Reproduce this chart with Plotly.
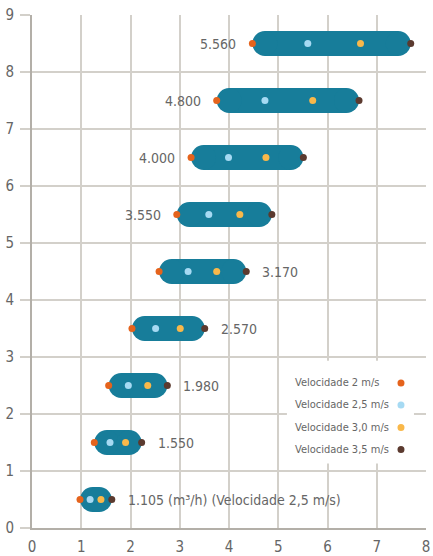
import plotly.graph_objects as go

# ---- data ----
rows = [0.5, 1.5, 2.5, 3.5, 4.5, 5.5, 6.5, 7.5, 8.5]
flow_labels = ["1.105 (m³/h) (Velocidade 2,5 m/s)", "1.550", "1.980", "2.570", "3.170",
               "3.550", "4.000", "4.800", "5.560"]
label_side = ["right", "right", "right", "right", "right", "left", "left", "left", "left"]
v20 = [0.975, 1.265, 1.557, 2.03, 2.58, 2.94, 3.23, 3.75, 4.475]
v25 = [1.18, 1.584, 1.956, 2.51, 3.17, 3.59, 3.99, 4.73, 5.60]
v30 = [1.40, 1.90, 2.35, 3.01, 3.75, 4.22, 4.75, 5.70, 6.67]
v35 = [1.62, 2.226, 2.748, 3.507, 4.35, 4.87, 5.51, 6.64, 7.69]
series_names = ["Velocidade 2 m/s", "Velocidade 2,5 m/s", "Velocidade 3,0 m/s", "Velocidade 3,5 m/s"]
series_colors = ["#e5631c", "#a6daf3", "#f9b84a", "#5b3a2f"]
x_ticks = [0, 1, 2, 3, 4, 5, 6, 7, 8]
y_ticks = [0, 1, 2, 3, 4, 5, 6, 7, 8, 9]

# ---- layout geometry ----
W, H = 433, 556
ML, MR, MT, MB = 32, 7, 15, 27.5
plot_w = W - ML - MR
x_range = [0, 8]
y_range = [0, 9]
cap_h = 25  # capsule thickness in px
rx = (cap_h / 2) / (plot_w / (x_range[1] - x_range[0]))

CAPSULE = "#177d9a"
GRID = "#d3d0ca"
AXIS = "#b3afa8"
TEXT = "#666666"
FONT = "DejaVu Sans Condensed, sans-serif"

fig = go.Figure()

# capsules: thick line between end-cap circles
cx, cy, ex, ey = [], [], [], []
for y, a, b in zip(rows, v20, v35):
    cx += [a + rx, b - rx, None]
    cy += [y, y, None]
    ex += [a + rx, b - rx]
    ey += [y, y]
fig.add_trace(go.Scatter(x=cx, y=cy, mode="lines", line=dict(color=CAPSULE, width=cap_h),
                         showlegend=False, hoverinfo="skip"))
fig.add_trace(go.Scatter(x=ex, y=ey, mode="markers",
                         marker=dict(color=CAPSULE, size=cap_h, line=dict(width=0)),
                         showlegend=False, hoverinfo="skip"))

for name, col, vals in zip(series_names, series_colors, [v20, v25, v30, v35]):
    fig.add_trace(go.Scatter(x=vals, y=rows, mode="markers", name=name,
                             marker=dict(color=col, size=7, line=dict(width=0)),
                             showlegend=False))

annotations = []
for y, lab, side, a, b in zip(rows, flow_labels, label_side, v20, v35):
    if side == "left":
        annotations.append(dict(x=a, y=y, xref="x", yref="y", text=lab, showarrow=False,
                                xanchor="right", yanchor="middle", xshift=-14,
                                font=dict(family=FONT, size=14, color=TEXT)))
    else:
        annotations.append(dict(x=b, y=y, xref="x", yref="y", text=lab, showarrow=False,
                                xanchor="left", yanchor="middle", xshift=14,
                                font=dict(family=FONT, size=14, color=TEXT)))

# custom legend (text left, dot right) in a white box
shapes = [dict(type="rect", xref="paper", yref="paper", x0=0.647, x1=0.9695, y0=0.1256, y1=0.3262,
               fillcolor="white", line=dict(width=0), layer="above")]
leg_y = [0.2828, 0.2399, 0.1957, 0.1529]
for name, col, ly in zip(series_names, series_colors, leg_y):
    annotations.append(dict(x=0.662, y=ly, xref="paper", yref="paper", text=name, showarrow=False,
                            xanchor="left", yanchor="middle",
                            font=dict(family=FONT, size=11, color=TEXT)))
    shapes.append(dict(type="circle", xref="paper", yref="paper", xsizemode="pixel", ysizemode="pixel",
                       xanchor=0.9365, yanchor=ly, x0=-3.5, x1=3.5, y0=-3.5, y1=3.5,
                       fillcolor=col, line=dict(width=0), layer="above"))

fig.update_layout(
    width=W, height=H,
    margin=dict(l=ML, r=MR, t=MT, b=MB, pad=0, autoexpand=False),
    paper_bgcolor="white", plot_bgcolor="white",
    annotations=annotations, shapes=shapes,
    showlegend=False,
    font=dict(family=FONT, size=14, color=TEXT),
)
fig.update_xaxes(range=x_range, tickvals=x_ticks, showgrid=True, gridcolor=GRID, gridwidth=1.5,
                 showline=True, linecolor=AXIS, linewidth=2, zeroline=False, automargin=False,
                 ticks="", ticklabelstandoff=4,
                 tickfont=dict(family=FONT, size=15, color=TEXT), fixedrange=True)
fig.update_yaxes(range=y_range, tickvals=y_ticks, showgrid=True, gridcolor=GRID, gridwidth=1.5,
                 showline=True, linecolor=AXIS, linewidth=2, zeroline=False, automargin=False,
                 ticks="outside", ticklen=10, tickcolor=GRID, tickwidth=1.5,
                 ticklabelstandoff=3,
                 tickfont=dict(family=FONT, size=15, color=TEXT), fixedrange=True)

fig.write_html("out.html", config={"displayModeBar": False},
               post_script="document.body.style.margin='0';document.body.style.padding='0';")
